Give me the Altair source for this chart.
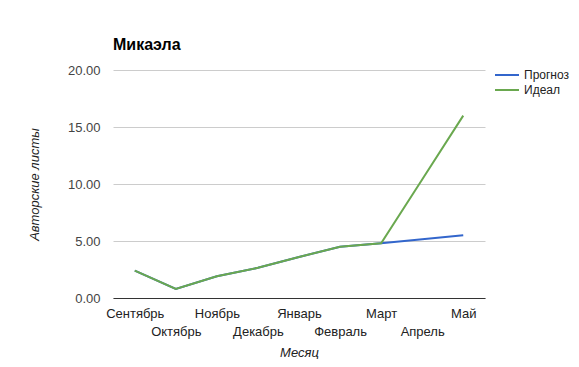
import altair as alt
import pandas as pd

months = ["Сентябрь", "Октябрь", "Ноябрь", "Декабрь", "Январь", "Февраль", "Март", "Апрель", "Май"]
forecast = [2.4, 0.8, 1.9, 2.65, 3.6, 4.5, 4.8, 5.15, 5.5]
ideal = [2.4, 0.8, 1.9, 2.65, 3.6, 4.5, 4.8, 10.4, 16.0]
series = ["Прогноз", "Идеал"]
colors = ["#3366cc", "#6aa84f"]
lower_row = ["Октябрь", "Декабрь", "Февраль", "Апрель"]

df_f = pd.DataFrame({"Месяц": months, "v": forecast, "s": series[0]})
df_i = pd.DataFrame({"Месяц": months, "v": ideal, "s": series[1]})

font = "Liberation Sans"
lower_js = "[" + ",".join(f"'{m}'" for m in lower_row) + "]"

x = alt.X("Месяц:N", sort=months, scale=alt.Scale(type="point", padding=0.53),
          axis=alt.Axis(title="Месяц", titleFontStyle="italic", titleFontWeight="normal",
                        titleFontSize=13, titleColor="#222", titlePadding=8,
                        labelAngle=0, labelFontSize=13, labelColor="#222", labelPadding=9,
                        labelLineHeight=18, labelOverlap=False, labelBound=False,
                        labelExpr=f"indexof({lower_js}, datum.value) >= 0 ? ['', datum.label] : datum.label",
                        ticks=False, domainColor="#333", domainWidth=1, grid=False))
y = alt.Y("v:Q", scale=alt.Scale(domain=[0, 20], nice=False),
          axis=alt.Axis(title="Авторские листы", titleFontStyle="italic", titleFontWeight="normal",
                        titleFontSize=13, titleColor="#222", titlePadding=26,
                        values=[0, 5, 10, 15, 20], format=".2f", labelFontSize=13,
                        labelColor="#444", labelPadding=13, ticks=False, domain=False,
                        gridColor="#cccccc"))
color = alt.Color("s:N", scale=alt.Scale(domain=series, range=colors),
                  legend=alt.Legend(title=None, orient="none", legendX=381, legendY=-2.5,
                                    symbolType="stroke", symbolSize=576, symbolStrokeWidth=2,
                                    labelFontSize=12, labelColor="#222", labelFont=font,
                                    labelOffset=4, rowPadding=0, clipHeight=15))

l1 = alt.Chart(df_f).mark_line(strokeWidth=2).encode(x=x, y=y, color=color)
l2 = alt.Chart(df_i).mark_line(strokeWidth=2).encode(x=x, y=y, color=color)

chart = alt.layer(l1, l2).properties(
    width=372, height=228,
    title=alt.TitleParams("Микаэла", anchor="start", frame="group", fontSize=16, font=font,
                          fontWeight="bold", color="#000", offset=11),
    autosize=alt.AutoSizeParams(type="none"),
    padding={"left": 105, "top": 62, "right": 86, "bottom": 61},
).configure(font=font).configure_view(stroke=None)

chart.save("out.html", embed_options={"renderer": "svg", "actions": False})
